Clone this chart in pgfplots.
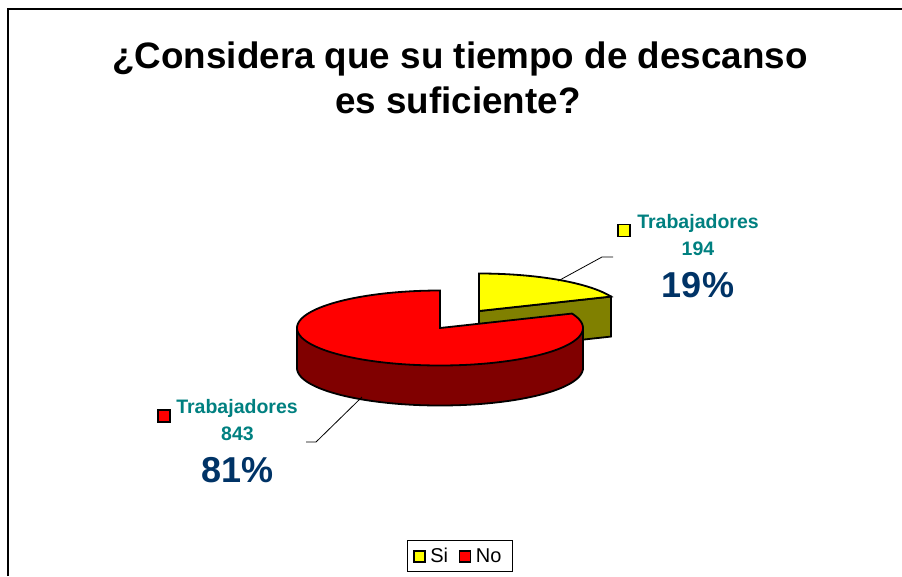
\documentclass[border=0pt]{standalone}
\usepackage{fontspec}
\setmainfont{Liberation Sans}
\usepackage{pgfplots}
\pgfplotsset{compat=1.18}
\usepackage{pgfplotstable}

\definecolor{pieYellow}{RGB}{255,255,0}
\definecolor{pieOlive}{RGB}{128,128,0}
\definecolor{pieRed}{RGB}{255,0,0}
\definecolor{pieDarkRed}{RGB}{128,0,0}
\definecolor{lblTeal}{RGB}{0,128,128}
\definecolor{pctBlue}{RGB}{0,51,102}

% respuestas
\pgfplotstableread{
respuesta trabajadores
Si 194
No 843
}\datos

% pie geometry (pixel units)
\def\pcx{440}\def\pcy{328}\def\prx{143}\def\pry{37.5}\def\pdz{40}
\def\ycx{479}\def\ycy{311}

\begin{document}
\begin{tikzpicture}
\pgfplotstablegetelem{0}{trabajadores}\of\datos \let\nSi\pgfplotsretval
\pgfplotstablegetelem{1}{trabajadores}\of\datos \let\nNo\pgfplotsretval
\pgfmathsetmacro{\fSi}{\nSi/(\nSi+\nNo)}
\pgfmathsetmacro{\angSi}{360*\fSi}
\pgfmathsetmacro{\aEnd}{90-\angSi}
\pgfmathsetmacro{\aEndR}{\aEnd+360}
\pgfmathtruncatemacro{\pSi}{round(100*\fSi)}
\pgfmathtruncatemacro{\pNo}{100-\pSi}
\begin{axis}[
  hide axis, scale only axis, clip=false,
  width=902pt, height=576pt,
  xmin=0, xmax=902, ymin=0, ymax=576, y dir=reverse,
  legend columns=2,
  legend style={at={(0.5094,0.0345)}, anchor=center, draw=black, fill=white,
    line width=0.8pt,
    font=\fontsize{20}{22}\selectfont, inner xsep=6pt, inner ysep=4.5pt,
    nodes={inner xsep=4.5pt, inner ysep=3pt},
    /tikz/every even column/.append style={column sep=6pt}},
  legend image code/.code={\draw[#1, line width=1.8pt] (0pt,-5.5pt) rectangle (11pt,5.5pt);},
]
  \addlegendimage{fill=pieYellow, draw=black}
  \addlegendentry{Si}
  \addlegendimage{fill=pieRed, draw=black}
  \addlegendentry{No}

  % yellow slice (exploded): radial face, then top
  \addplot[forget plot, fill=pieOlive, draw=black, line width=1.8pt] coordinates {
    (\ycx,\ycy)
    ({\ycx+\prx*cos(\aEnd)},{\ycy-\pry*sin(\aEnd)})
    ({\ycx+\prx*cos(\aEnd)},{\ycy-\pry*sin(\aEnd)+\pdz})
    (\ycx,{\ycy+\pdz})} -- cycle;
  \addplot[forget plot, fill=pieYellow, draw=black, line width=1.8pt,
    domain=\aEnd:90, samples=40, variable=\t]
    ({\ycx+\prx*cos(\t)},{\ycy-\pry*sin(\t)}) -- (axis cs:\ycx,\ycy) -- cycle;

  % red slice: side, then top
  \addplot[forget plot, fill=pieDarkRed, draw=black, line width=1.8pt,
    domain=180:360, samples=91, variable=\t]
    ({\pcx+\prx*cos(\t)},{\pcy+\pdz-\pry*sin(\t)})
    -- (axis cs:{\pcx+\prx},\pcy) -- (axis cs:{\pcx-\prx},\pcy) -- cycle;
  \addplot[forget plot, fill=pieRed, draw=black, line width=1.8pt,
    domain=90:\aEndR, samples=150, variable=\t]
    ({\pcx+\prx*cos(\t)},{\pcy-\pry*sin(\t)}) -- (axis cs:\pcx,\pcy) -- cycle;

  % frame
  \draw[line width=1.6pt] (axis cs:8,576) -- (axis cs:8,9) -- (axis cs:902,9);

  % title
  \node[anchor=base, inner sep=0, font=\bfseries\fontsize{36.8}{44}\selectfont]
    at (axis cs:460,68) {¿Considera que su tiempo de descanso};
  \node[anchor=base, inner sep=0, font=\bfseries\fontsize{36.8}{44}\selectfont]
    at (axis cs:458,113) {es suficiente?};

  % leader lines
  \draw[line width=0.8pt] (axis cs:558,281) -- (axis cs:602,257) -- (axis cs:613,257);
  \draw[line width=0.8pt] (axis cs:362,397) -- (axis cs:316,442) -- (axis cs:306,442);

  % data labels
  \node[draw=black, line width=1.8pt, fill=pieYellow, minimum size=12pt, inner sep=0]
    at (axis cs:624,230.5) {};
  \node[anchor=base, inner sep=0, text=lblTeal, font=\bfseries\fontsize{19.5}{22}\selectfont]
    at (axis cs:698,228) {Trabajadores};
  \node[anchor=base, inner sep=0, text=lblTeal, font=\bfseries\fontsize{19.5}{22}\selectfont]
    at (axis cs:698,255) {\nSi};
  \node[anchor=base, inner sep=0, text=pctBlue, font=\bfseries\fontsize{36}{40}\selectfont]
    at (axis cs:698,297) {\pSi\%};

  \node[draw=black, line width=1.8pt, fill=pieRed, minimum size=12pt, inner sep=0]
    at (axis cs:164,416) {};
  \node[anchor=base, inner sep=0, text=lblTeal, font=\bfseries\fontsize{19.5}{22}\selectfont]
    at (axis cs:237,413) {Trabajadores};
  \node[anchor=base, inner sep=0, text=lblTeal, font=\bfseries\fontsize{19.5}{22}\selectfont]
    at (axis cs:237.5,440) {\nNo};
  \node[anchor=base, inner sep=0, text=pctBlue, font=\bfseries\fontsize{36}{40}\selectfont]
    at (axis cs:237.5,482) {\pNo\%};
\end{axis}
\pgfresetboundingbox
\path (0,0) rectangle (902pt,576pt);
\end{tikzpicture}
\end{document}
